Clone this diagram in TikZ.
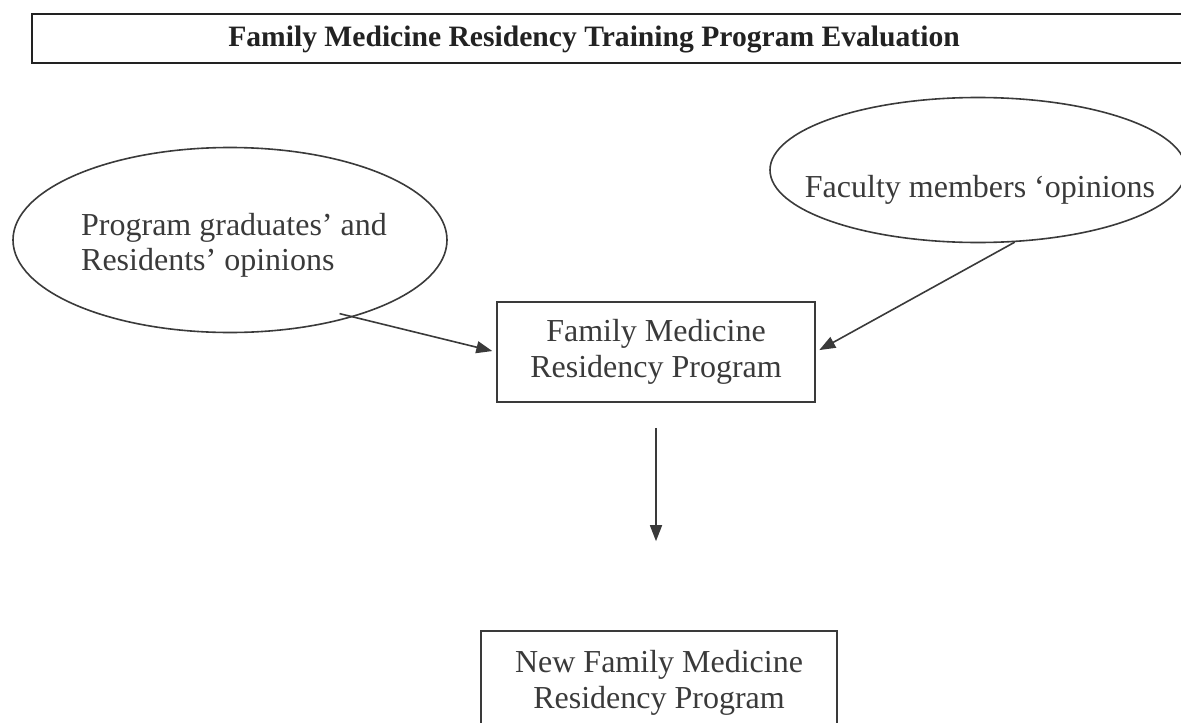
\documentclass[tikz,border=0pt]{standalone}
\usepackage{fontspec}
\setmainfont{Liberation Serif}
\usepackage{tikz}
\usetikzlibrary{shapes.geometric, arrows.meta, positioning, calc}
\definecolor{ink}{HTML}{3A3A3A}
\definecolor{inkdark}{HTML}{222222}
\tikzset{
  bubble/.style={ellipse, draw=ink, line width=0.8pt, inner sep=0pt},
  bubbletext/.style={font=\fontsize{16}{17.5}\selectfont, text=ink,
    align=left, inner sep=0pt},
  process/.style={rectangle, draw=ink, line width=0.8pt, text=ink,
    font=\fontsize{16}{18}\selectfont, align=center},
  titletext/.style={font=\fontsize{14.8}{17}\selectfont\bfseries,
    text=inkdark},
  arrow/.style={-{Triangle[length=8pt,width=6pt]}, line width=0.8pt, draw=ink}
}

\begin{document}
\begin{tikzpicture}[x=0.5pt, y=-0.5pt]
\useasboundingbox (0,0) rectangle (1181,722);

% heading
\node (title) [titletext] at (594,39)
  {Family Medicine Residency Training Program Evaluation};
\draw [inkdark, line width=1.4pt] (32,14) rectangle (1195,63);

% opinion sources
\node (gradsbubble) [bubble, minimum width=217pt, minimum height=92.5pt]
  at (230,240) {};
\node (gradstext) [bubbletext] at (234,245)
  {Program graduates’ and\\Residents’ opinions};
\node (facbubble) [bubble, minimum width=208pt, minimum height=72.5pt]
  at (978,170) {};
\node (factext) [bubbletext] at (980,190) {Faculty members ‘opinions};

% programs
\node (prog)    [process, minimum width=159pt, minimum height=50pt]
  at (656,352) {Family Medicine\\Residency Program};
\node (newprog) [process, minimum width=178pt, minimum height=52pt]
  at (659,683) {New Family Medicine\\Residency Program};

\draw [arrow, shorten <=-7pt, shorten >=2pt] (gradsbubble.-32) -- (prog.west);
\draw [arrow, shorten >=2pt] (facbubble.-63) -- (prog.east);
\draw [arrow, shorten <=12.5pt, shorten >=44.5pt]
  (prog.south) -- (prog.south |- newprog.north);
\end{tikzpicture}
\end{document}
